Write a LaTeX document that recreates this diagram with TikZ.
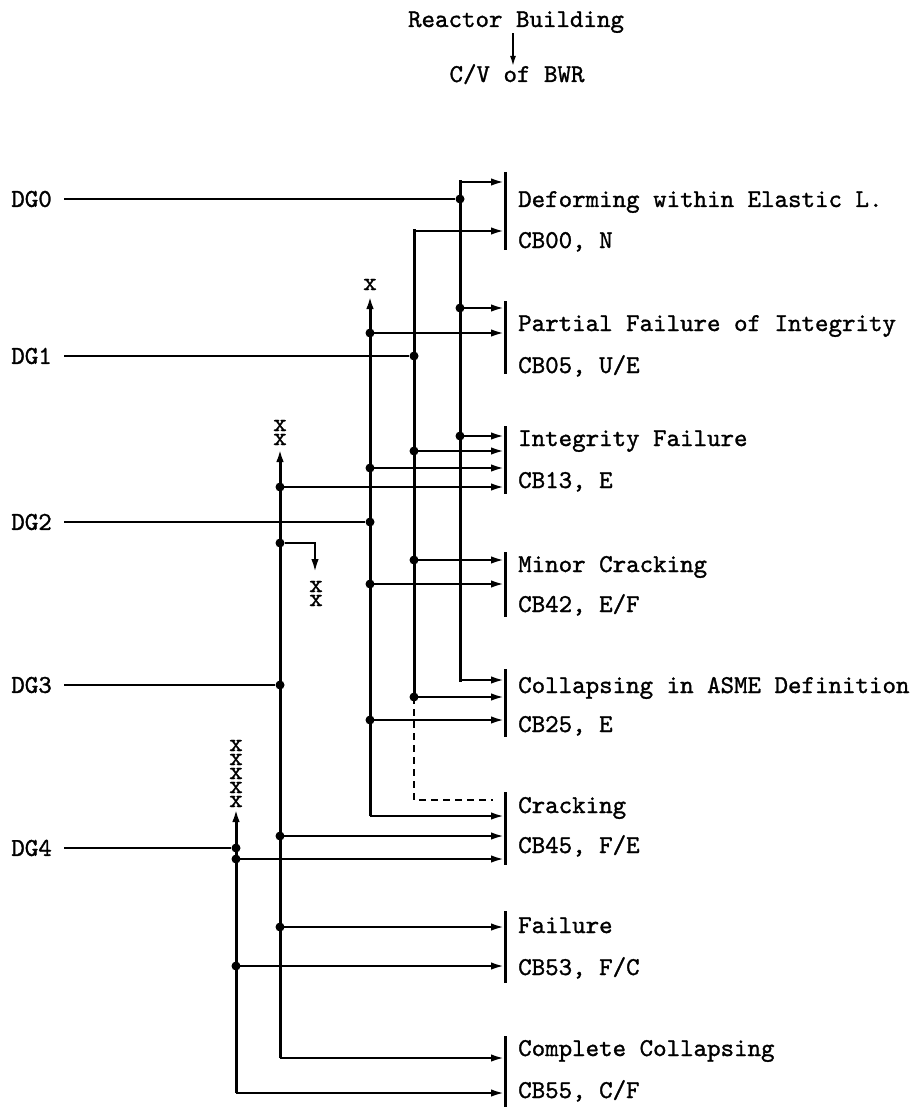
\documentclass[tikz,border=0pt]{standalone}
\usepackage{fontspec}
\newfontfamily\tw{lmmono10-regular.otf}[FakeBold=1.2]
\usetikzlibrary{arrows.meta}
\tikzset{
  hl/.style={line width=2.2pt},
  vl/.style={line width=3pt,line cap=rect},
  arr/.style={-{Latex[length=13pt,width=7.5pt]}},
  jdot/.style={circle,fill,inner sep=0,minimum size=9pt},
  tfont/.style={font=\fontsize{25.7}{30}\selectfont\tw,inner sep=0},
  lab/.style={tfont,anchor=base west},
  dglab/.style={tfont,anchor=east},
  xm/.style={tfont,anchor=base},
  barline/.style={line width=3pt},
  dashline/.style={line width=2.2pt,dash pattern=on 7pt off 5pt}
}
\begin{document}
\begin{tikzpicture}[x=1pt,y=-1pt]
\useasboundingbox (0,0) rectangle (922,1107);
% title
\node[tfont,anchor=base] (t1) at (516,27) {Reactor Building};
\node[tfont,anchor=base] (t2) at (517,82) {C/V of BWR};
\draw[line width=1.6pt,-{Latex[length=10pt,width=6pt]}] ([xshift=-3pt]t1.south) -- ([xshift=-4pt,yshift=-2pt]t2.north);

% DG labels
\node[dglab] (dg0) at (52,199) {DG0};
\node[dglab] (dg1) at (52,356) {DG1};
\node[dglab] (dg2) at (52,522) {DG2};
\node[dglab] (dg3) at (52,685) {DG3};
\node[dglab] (dg4) at (52,848) {DG4};

% junction dots of DG inputs
\node[jdot] (j0) at (460,199) {};
\node[jdot] (j1) at (414,356) {};
\node[jdot] (j2) at (370,522) {};
\node[jdot] (j3) at (280,685) {};
\node[jdot] (j4) at (236,848) {};
\draw[hl] ([xshift=12pt]dg0.east) -- (j0);
\draw[hl] ([xshift=12pt]dg1.east) -- (j1);
\draw[hl] ([xshift=12pt]dg2.east) -- (j2);
\draw[hl] ([xshift=12pt]dg3.east) -- (j3);
\draw[hl] ([xshift=12pt]dg4.east) -- (j4);

% vertical trunks
\coordinate (v0t) at (460,182); \coordinate (v0b) at (460,680);
\coordinate (v1t) at (414,231); \coordinate (v1b) at (414,697);
\coordinate (v2t) at (370,296); \coordinate (v2b) at (370,816);
\coordinate (v3t) at (280,449); \coordinate (v3b) at (280,1058);
\coordinate (v4t) at (236,809); \coordinate (v4b) at (236,1093);
\draw[vl] (v0t) -- (v0b);
\draw[vl] (v1t) -- (v1b);
\draw[vl,line cap=butt,arr] (v2b) -- (v2t);
\draw[vl,line cap=butt,arr] (v3b) -- (v3t);
\draw[vl,line cap=butt,arr] (v4b) -- (v4t);

% x marks (one node per x)
\node[xm] (x2a) at (370,290) {x};
\node[xm] (x3a) at (280,431) {x};
\node[xm] (x3b) at (280,445) {x};
\foreach \k/\y in {1/751,2/765,3/779,4/793,5/807}
  \node[xm] (x4\k) at (236,\y) {x};

% branch from DG3 trunk to xx
\node[jdot] (jb) at (280,543) {};
\coordinate (bc) at (315,543);
\coordinate (bt) at (315,572);
\draw[hl,arr] (jb) -- (bc) -- (bt);
\node[xm] (xba) at (316,592) {x};
\node[xm] (xbb) at (316,606) {x};

% branch dots
\foreach \n/\x/\y in {a/460/308, b/370/333, c/460/436, d/414/451, e/370/468, f/280/487,
  g/414/560, h/370/584, i/414/697, k/370/720, l/280/836, m/236/859, n/280/927, o/236/966}
  \node[jdot] (d\n) at (\x,\y) {};

% arrows to the outcome bars
\foreach \x/\y in {460/182, 414/231, 460/308, 370/333, 460/436, 414/451, 370/468, 280/487,
  414/560, 370/584, 460/680, 414/697, 370/720, 370/816, 280/836, 236/859, 280/927, 236/966,
  280/1058, 236/1093}
  \draw[hl,arr] (\x,\y) -- (504,\y);

% dashed path
\coordinate (dsh) at (414,800);
\coordinate (dse) at (493,800);
\draw[dashline] (v1b) -- (dsh) -- (dse);

% outcome bars
\foreach \a/\b in {172/250, 301/374, 426/494, 552/617, 669/737, 792/865, 911/983, 1036/1107}
  \draw[barline] (505,\a) -- (505,\b);

% outcome labels
\node[lab] (o1a) at (518,207) {Deforming within Elastic L.};
\node[lab] (o1b) at (518,248) {CB00, N};
\node[lab] (o2a) at (518,331) {Partial Failure of Integrity};
\node[lab] (o2b) at (518,373) {CB05, U/E};
\node[lab] (o3a) at (518,446) {Integrity Failure};
\node[lab] (o3b) at (518,488) {CB13, E};
\node[lab] (o4a) at (518,572) {Minor Cracking};
\node[lab] (o4b) at (518,612) {CB42, E/F};
\node[lab] (o5a) at (518,693) {Collapsing in ASME Definition};
\node[lab] (o5b) at (518,732) {CB25, E};
\node[lab] (o6a) at (518,813) {Cracking};
\node[lab] (o6b) at (518,853) {CB45, F/E};
\node[lab] (o7a) at (518,933) {Failure};
\node[lab] (o7b) at (518,975) {CB53, F/C};
\node[lab] (o8a) at (518,1056) {Complete Collapsing};
\node[lab] (o8b) at (518,1098) {CB55, C/F};
\end{tikzpicture}
\end{document}
